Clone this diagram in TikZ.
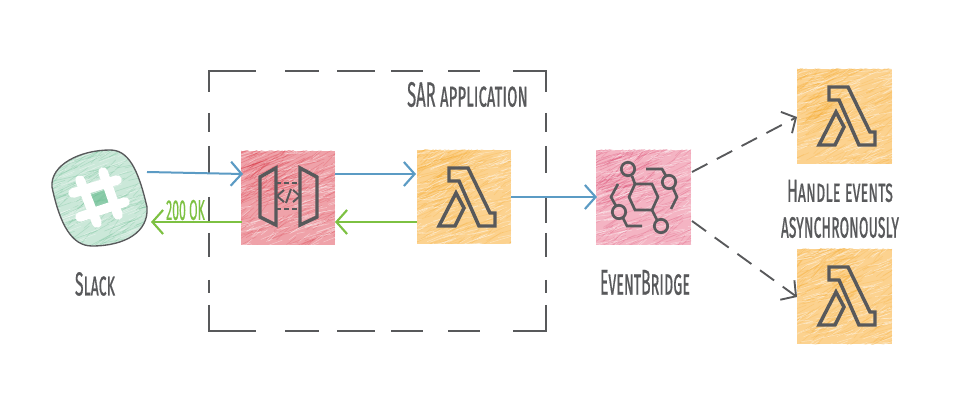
\documentclass[tikz,border=0pt]{standalone}
\usepackage{fontspec}
\setmainfont{Fira Sans}[Letters=SmallCaps]
\newfontfamily\labfont{Fira Sans}[Letters=SmallCaps,FakeBold=0.7]
\usetikzlibrary{arrows.meta}
\definecolor{ink}{HTML}{58595B}
\definecolor{flow}{HTML}{5B9BC4}
\definecolor{okg}{HTML}{7DC142}
\definecolor{orng}{HTML}{FCD28F}
\definecolor{orngd}{HTML}{F7A826}
\definecolor{redb}{HTML}{EFA2A9}
\definecolor{redd}{HTML}{D8303F}
\definecolor{pnk}{HTML}{F4B4C3}
\definecolor{pnkd}{HTML}{DB4A72}
\definecolor{grn}{HTML}{CBE8D9}
\definecolor{grnd}{HTML}{62BA8B}
\tikzset{
 x=0.75pt,y=-0.75pt,
 tile/.style={minimum size=71pt,inner sep=0pt,outer sep=0pt,anchor=north west},
 flowa/.style={draw=flow,line width=1.5pt,-{Straight Barb[length=8pt,width=18pt,line width=1.6pt]}},
 oka/.style={draw=okg,line width=1.5pt,-{Straight Barb[length=8pt,width=18pt,line width=1.6pt]}},
 async/.style={draw=ink,line width=1.4pt,dash pattern=on 13pt off 8pt,-{Straight Barb[length=8pt,width=18pt,line width=1.4pt]}},
 glyph/.style={draw=ink,line width=2.6pt,line join=miter},
 eglyph/.style={draw=ink,line width=2pt},
 lab/.style={text=ink,inner sep=0pt,font=\labfont\fontsize{16}{18}\selectfont},
 framedash/.style={draw=ink,line width=1.5pt},
}
\newcommand{\fit}[3]{\resizebox{#1pt}{#2pt}{#3}}
\newcommand{\hatch}[5]{% x y size light dark
 \begin{scope}
 \clip (#1,#2) rectangle ++(#3,#3);
 \fill[#4] (#1,#2) rectangle ++(#3,#3);
 \foreach \i in {1,...,170}{
  \pgfmathsetmacro{\xa}{#1-10+rnd*(#3+10)}\pgfmathsetmacro{\ya}{#2+rnd*(#3+10)}
  \pgfmathsetmacro{\dx}{10+rnd*22}\pgfmathsetmacro{\dy}{-5-rnd*11}
  \draw[#5,opacity=0.22,line width=0.45pt] (\xa,\ya) -- ++(\dx,\dy);
 }
 \foreach \i in {1,...,60}{
  \pgfmathsetmacro{\xa}{#1-10+rnd*55}\pgfmathsetmacro{\ya}{#2+rnd*55}
  \pgfmathsetmacro{\dx}{10+rnd*22}\pgfmathsetmacro{\dy}{-5-rnd*11}
  \draw[#5,opacity=0.30,line width=0.5pt] (\xa,\ya) -- ++(\dx,\dy);
 }
 \foreach \i in {1,...,190}{
  \pgfmathsetmacro{\xa}{#1-10+rnd*(#3+10)}\pgfmathsetmacro{\ya}{#2+rnd*(#3+10)}
  \pgfmathsetmacro{\dx}{6+rnd*16}\pgfmathsetmacro{\dy}{-1-rnd*7}
  \draw[white,opacity=0.40,line width=0.4pt] (\xa,\ya) -- ++(\dx,\dy);
 }
 \end{scope}
}
\newcommand{\lam}[2]{%
 \begin{scope}[shift={(#1,#2)}]
 \draw[glyph] (32,18) -- (51,18) -- (73,63) -- (78,63) -- (78,76) -- (62,76) -- (42,31) -- (32,31) -- cycle;
 \draw[glyph] (22,76) -- (39,43) -- (47,58) -- (38,76) -- cycle;
 \end{scope}
}
\begin{document}
\begin{tikzpicture}
\useasboundingbox (0,0) rectangle (954,406);
\fill[white] (0,0) rectangle (954,406);
\pgfmathsetseed{42}
% tiles
\hatch{241}{151}{94}{redb}{redd}
\hatch{417}{150}{94}{orng}{orngd}
\hatch{596}{150}{95}{pnk}{pnkd}
\hatch{797}{69}{95}{orng}{orngd}
\hatch{797}{249}{95}{orng}{orngd}
\node[tile] (gw) at (241,151) {};
\node[tile] (fn) at (417,150) {};
\node[tile] (eb) at (596,150) {};
\node[tile] (fa) at (797,69) {};
\node[tile] (fb) at (797,249) {};
% slack
\path[save path=\slackp] (110,150) .. controls (128,150) and (138,168) .. (147,207)
  .. controls (149,232) and (125,246) .. (92,246)
  .. controls (72,246) and (60,225) .. (52,187)
  .. controls (50,165) and (80,150) .. (110,150) -- cycle;
\begin{scope}
\clip[use path=\slackp];
\fill[grn] (45,145) rectangle (155,250);
\foreach \i in {1,...,170}{
  \pgfmathsetmacro{\xa}{35+rnd*110}\pgfmathsetmacro{\ya}{150+rnd*106}
  \pgfmathsetmacro{\dx}{10+rnd*22}\pgfmathsetmacro{\dy}{-5-rnd*11}
  \draw[grnd,opacity=0.28,line width=0.45pt] (\xa,\ya) -- ++(\dx,\dy);
}
\foreach \i in {1,...,120}{
  \pgfmathsetmacro{\xa}{35+rnd*110}\pgfmathsetmacro{\ya}{150+rnd*106}
  \draw[white,opacity=0.4,line width=0.4pt] (\xa,\ya) -- ++(16,-6);
}
\end{scope}
\draw[ink,line width=1pt,use path=\slackp];
\fill[grnd,opacity=0.6] (90,195) -- (107,189) -- (110,205) -- (94,208) -- cycle;
\draw[white,line width=7.2pt,line cap=round] (80,180) -- (97,223);
\draw[white,line width=7.2pt,line cap=round] (103,172) -- (118,215);
\draw[white,line width=7.2pt,line cap=round] (73,193) -- (117,180);
\draw[white,line width=7.2pt,line cap=round] (80,217) -- (125,202);
\node[inner sep=0pt,minimum size=72pt] (slack) at (100,198) {};
% dashed frame
\node[minimum width=252.75pt,minimum height=195pt,inner sep=0pt,anchor=north west] (sar) at (209,71) {};
\draw[framedash] (209,92) -- (209,71) -- (256,71);
\draw[framedash] (546,92) -- (546,71) -- (513,71);
\draw[framedash] (209,305) -- (209,331) -- (256,331);
\draw[framedash] (546,305) -- (546,331) -- (513,331);
\foreach \a/\b in {285/319,337/375,391/423,448/480}{
  \draw[framedash] (\a,71) -- (\b,71);
  \draw[framedash] (\a,331) -- (\b,331);
}
\foreach \a/\b in {113/132,146/173,197/223,233/257,280/293}{
  \draw[framedash] (209,\a) -- (209,\b);
  \draw[framedash] (546,\a) -- (546,\b);
}
% gateway glyph
\begin{scope}[shift={(241,151)}]
 \draw[glyph] (19,26) -- (19,66) -- (35,74) -- (35,17) -- cycle;
 \draw[glyph] (59,17) -- (59,74) -- (76,66) -- (76,26) -- cycle;
 \draw[ink,line width=2.1pt,dash pattern=on 3.5pt off 2.5pt] (35,32) -- (59,32);
 \draw[ink,line width=2.1pt,dash pattern=on 3.5pt off 2.5pt] (35,58) -- (59,58);
 \draw[ink,line width=1.5pt] (43,39) -- (36,45) -- (43,51);
 \draw[ink,line width=1.5pt] (52,39) -- (59,45) -- (52,51);
 \draw[ink,line width=1.5pt] (50,38) -- (45,52);
\end{scope}
\lam{417}{150}
\lam{797}{69}
\lam{797}{249}
% eventbridge glyph
\begin{scope}[shift={(596,150)}]
 \draw[eglyph] (39,34) -- (56,34) -- (62,47) -- (56,60) -- (39,60) -- (33,47) -- cycle;
 \draw[eglyph] (32,19) circle (6.7);
 \draw[eglyph] (36,26) -- (39,34);
 \draw[eglyph] (73,32) circle (6.7);
 \draw[eglyph] (50,19) -- (66,19) -- (70,26);
 \draw[eglyph] (77,38) -- (81,47) -- (75,59);
 \draw[eglyph] (23,62) circle (6.7);
 \draw[eglyph] (22,34) -- (15,47) -- (20,56);
 \draw[eglyph] (27,68) -- (31,76) -- (46,76);
 \draw[eglyph] (65,76) circle (6.7);
 \draw[eglyph] (56,60) -- (61,70);
\end{scope}
% labels (widths and heights in pt: px * 0.75)
\node[lab] (tslack) at (95,284) {\fit{30}{17.5}{Slack}};
\node[lab] (tsar) at (467.5,94.5) {\fit{90.5}{18.5}{SAR application}};
\node[lab] (teb) at (645,282.5) {\fit{67.5}{18.5}{EventBridge}};
\node[lab] (th) at (840,191) {\fit{79.5}{16.5}{Handle events}};
\node[lab] (ta) at (840,227.5) {\fit{88.5}{15.5}{asynchronously}};
\node[lab,text=okg] (tok) at (185.5,210) {\fit{29}{15}{200 OK}};
% connectors
\coordinate (s1) at (147,172);
\coordinate (g1) at (243,174);
\draw[flowa] (s1) -- (g1);
\coordinate (g2) at (335,174);
\coordinate (f2) at (416,174);
\draw[flowa] (g2) -- (f2);
\coordinate (f3) at (511,197);
\coordinate (e3) at (597,197);
\draw[flowa] (f3) -- (e3);
\coordinate (f4) at (417,222);
\coordinate (g4) at (335,222);
\draw[oka] (f4) -- (g4);
\coordinate (g5) at (242,222);
\coordinate (s5) at (151,222);
\draw[oka] (g5) -- (s5);
\coordinate (e6) at (692,172);
\coordinate (a6) at (797,117);
\draw[async] (e6) -- (a6);
\coordinate (e7) at (692,221);
\coordinate (b7) at (797,297);
\draw[async] (e7) -- (b7);
\end{tikzpicture}
\end{document}
